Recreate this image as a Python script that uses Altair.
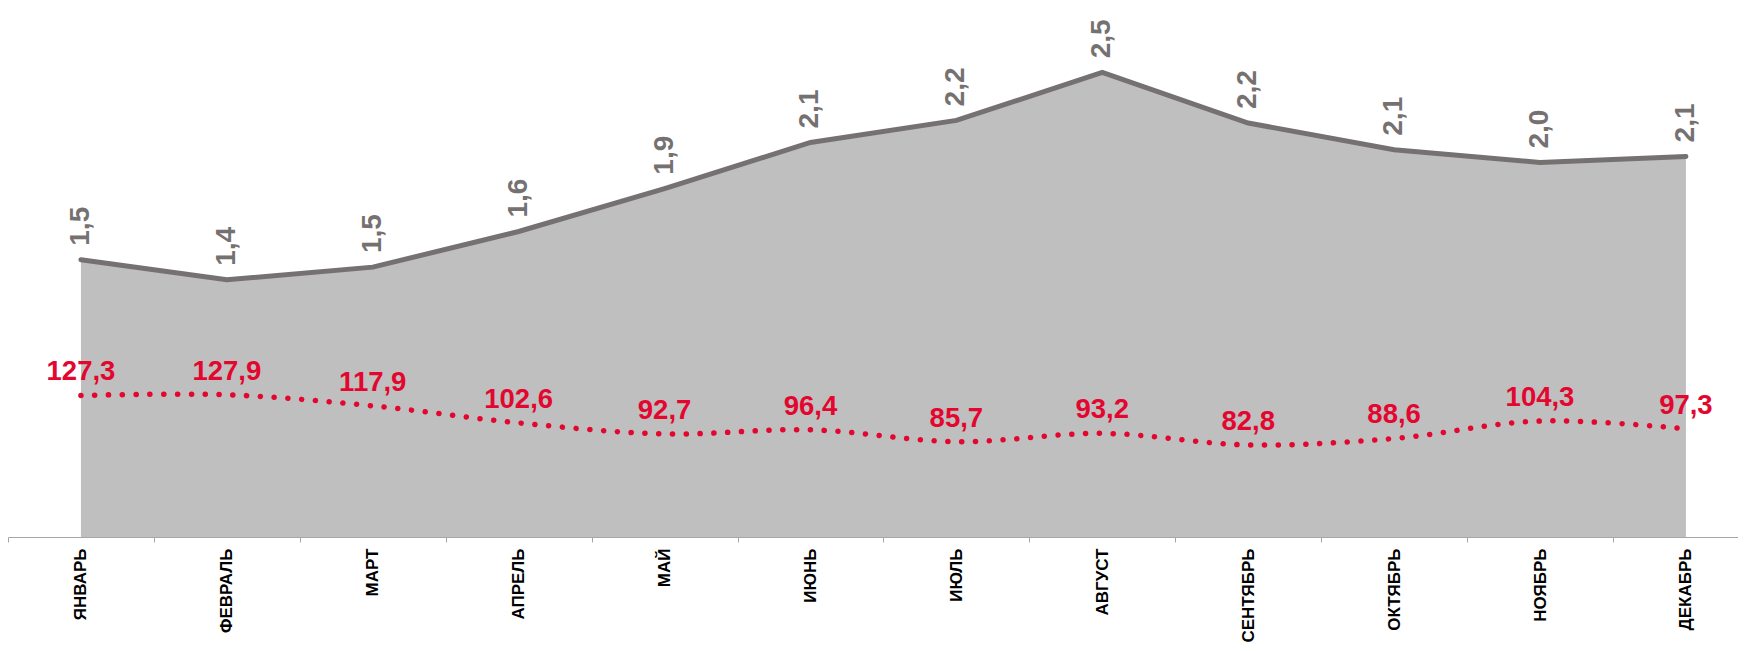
import json
import altair as alt
import pandas as pd

months = ["ЯНВАРЬ", "ФЕВРАЛЬ", "МАРТ", "АПРЕЛЬ", "МАЙ", "ИЮНЬ",
          "ИЮЛЬ", "АВГУСТ", "СЕНТЯБРЬ", "ОКТЯБРЬ", "НОЯБРЬ", "ДЕКАБРЬ"]
gray_values = [1.495, 1.387, 1.455, 1.647, 1.878, 2.127,
               2.246, 2.505, 2.232, 2.088, 2.019, 2.052]
red_values = [127.3, 127.9, 117.9, 102.6, 92.7, 96.4,
              85.7, 93.2, 82.8, 88.6, 104.3, 97.3]

df = pd.DataFrame({
    "idx": list(range(len(months))),
    "month": months,
    "gray": gray_values,
    "red": red_values,
})

FONT = "Liberation Sans"
RED = "#e3062f"
GRAY_LINE = "#767171"
AREA = "#bfbfbf"

W, H = 1730, 529
tick_values = [i * 0.5 - 0.5 for i in range(2 * len(months))]
label_expr = ("datum.value % 1 === 0 ? " + json.dumps(months, ensure_ascii=False)
              + "[datum.value] : ''")

x_axis = alt.Axis(
    values=tick_values,
    labelExpr=label_expr,
    labelAngle=-90,
    labelFont=FONT,
    labelFontWeight="bold",
    labelFontSize=17,
    labelColor="black",
    labelPadding=6,
    labelOverlap=False,
    labelFlush=False,
    labelBound=False,
    tickSize=5,
    tickColor="#a6a6a6",
    tickWidth=1,
    tickOpacity={"condition": {"test": "datum.value % 1 !== 0", "value": 1}, "value": 0},
    domainColor="#a6a6a6",
    domainWidth=1,
    grid=False,
    title=None,
)
x_enc = alt.X("idx:Q", scale=alt.Scale(domain=[-0.5, 11.357], nice=False, zero=False), axis=x_axis)

y_gray = alt.Y("gray:Q", scale=alt.Scale(domain=[0, 2.852], nice=False, zero=True), axis=None)
y_red = alt.Y("red:Q", scale=alt.Scale(domain=[0, 475.7], nice=False, zero=True), axis=None)

base = alt.Chart(df).transform_calculate(
    glabel="replace(format(datum.gray, '.1f'), '.', ',')",
    rlabel="replace(format(datum.red, '.1f'), '.', ',')",
)

area = base.mark_area(color=AREA).encode(x=x_enc, y=y_gray)
gline = base.mark_line(color=GRAY_LINE, strokeWidth=5, strokeCap="round", strokeJoin="miter").encode(x=x_enc, y=y_gray)
gtext = base.mark_text(
    angle=270, align="left", baseline="middle", dx=14,
    font=FONT, fontSize=28, fontWeight="bold", color=GRAY_LINE,
).encode(x=x_enc, y=y_gray, text="glabel:N")

rline = base.mark_line(
    color=RED, strokeWidth=5.5, strokeDash=[0.1, 13.7], strokeCap="round",
    interpolate="cardinal",
).encode(x=x_enc, y=y_red)
rtext = base.mark_text(
    align="center", baseline="alphabetic", dy=-15,
    font=FONT, fontSize=27.5, fontWeight="bold", color=RED,
).encode(x=x_enc, y=y_red, text="rlabel:N")

gray_layer = alt.layer(area, gline, gtext)
red_layer = alt.layer(rline, rtext)

chart = alt.layer(gray_layer, red_layer).resolve_scale(y="independent").properties(
    width=W, height=H,
    background="white",
    autosize=alt.AutoSizeParams(type="none"),
    padding={"left": 0, "top": 0, "right": 0, "bottom": 108},
).configure_view(stroke=None, strokeWidth=0)

chart.save("out.html", embed_options={"renderer": "svg", "actions": False})
